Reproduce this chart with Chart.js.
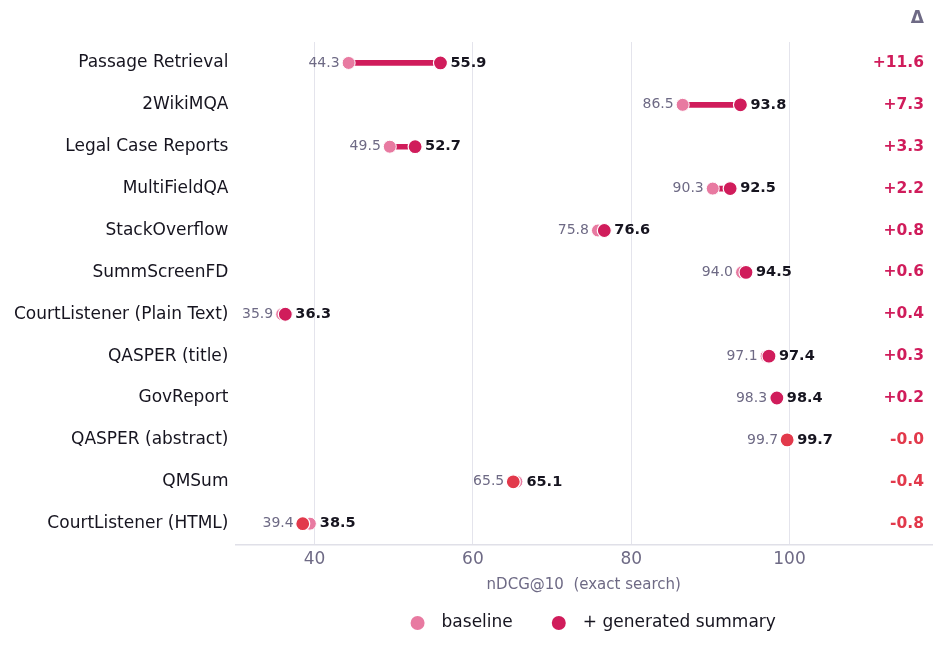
<!DOCTYPE html>
<html>
<head>
<meta charset="utf-8">
<script src="https://cdn.jsdelivr.net/npm/chart.js@4"></script>
<style>
  html, body { margin: 0; padding: 0; background: #fff; }
  #wrap { width: 945px; height: 652px; }
</style>
</head>
<body>
<div id="wrap"><canvas id="dumbbell"></canvas></div>
<script>
// datasets, top to bottom
const tasks = ['Passage Retrieval', '2WikiMQA', 'Legal Case Reports', 'MultiFieldQA', 'StackOverflow',
  'SummScreenFD', 'CourtListener (Plain Text)', 'QASPER (title)', 'GovReport', 'QASPER (abstract)',
  'QMSum', 'CourtListener (HTML)'];
const baseline = [44.3, 86.5, 49.5, 90.3, 75.8, 94.0, 35.9, 97.1, 98.3, 99.7, 65.5, 39.4];
const withSummary = [55.9, 93.8, 52.7, 92.5, 76.6, 94.5, 36.3, 97.4, 98.4, 99.7, 65.1, 38.5];
const deltaLabels = ['+11.6', '+7.3', '+3.3', '+2.2', '+0.8', '+0.6', '+0.4', '+0.3', '+0.2', '-0.0', '-0.4', '-0.8'];
const xTicks = [40, 60, 80, 100];

const FONT = '"DejaVu Sans", sans-serif';
const PINK = '#e87aa1';
const UP = '#d01c5b';
const DOWN = '#e2394b';
const isDown = deltaLabels.map(d => d.startsWith('-'));
const sumColors = isDown.map(d => d ? DOWN : UP);

// value labels, delta column, header and the legend under the plot
const annotate = {
  id: 'annotate',
  afterDatasetsDraw(chart) {
    const { ctx, chartArea, scales: { x, y } } = chart;
    ctx.save();
    ctx.textBaseline = 'middle';
    tasks.forEach((t, i) => {
      const py = y.getPixelForValue(i);
      const lo = x.getPixelForValue(Math.min(baseline[i], withSummary[i]));
      const hi = x.getPixelForValue(Math.max(baseline[i], withSummary[i]));
      ctx.font = '14px ' + FONT;
      ctx.fillStyle = '#6e6a85';
      ctx.textAlign = 'right';
      ctx.fillText(baseline[i].toFixed(1), lo - 9, py);
      ctx.font = 'bold 14.5px ' + FONT;
      ctx.fillStyle = '#16141f';
      ctx.textAlign = 'left';
      ctx.fillText(withSummary[i].toFixed(1), hi + 10, py);
      ctx.font = 'bold 15.5px ' + FONT;
      ctx.fillStyle = sumColors[i];
      ctx.textAlign = 'right';
      ctx.fillText(deltaLabels[i], chartArea.right - 8, py);
    });
    ctx.font = 'bold 17px ' + FONT;
    ctx.fillStyle = '#6e6a85';
    ctx.textAlign = 'right';
    ctx.fillText('Δ', chartArea.right - 8, 19);

    // legend
    const items = [['baseline', PINK], ['+ generated summary', UP]];
    ctx.font = '17px ' + FONT;
    const widths = items.map(([txt]) => 24 + ctx.measureText(txt).width);
    const gap = 46;
    const total = widths[0] + widths[1] + gap;
    let lx = (chartArea.left + chartArea.right) / 2 + 13 - total / 2;
    const ly = 623;
    ctx.textAlign = 'left';
    items.forEach(([txt, col], k) => {
      ctx.beginPath();
      ctx.arc(lx, ly, 7, 0, Math.PI * 2);
      ctx.fillStyle = col;
      ctx.fill();
      ctx.fillStyle = '#16141f';
      ctx.fillText(txt, lx + 24, ly);
      lx += widths[k] + gap;
    });
    ctx.restore();
  }
};

const ctx = document.getElementById('dumbbell').getContext('2d');
const chart = new Chart(ctx, {
  data: {
    labels: tasks,
    datasets: [
      {
        type: 'bar',
        label: 'gap',
        data: baseline.map((b, i) => [b, withSummary[i]]),
        backgroundColor: UP,
        barThickness: 5,
        borderSkipped: false,
        order: 3
      },
      {
        type: 'line',
        label: 'baseline',
        data: baseline,
        showLine: false,
        pointRadius: 6.5,
        pointBackgroundColor: PINK,
        pointBorderColor: '#ffffff',
        pointBorderWidth: 1,
        backgroundColor: PINK,
        borderColor: PINK,
        order: 2
      },
      {
        type: 'line',
        label: '+ generated summary',
        data: withSummary,
        showLine: false,
        pointRadius: 7,
        pointBackgroundColor: sumColors,
        pointBorderColor: '#ffffff',
        pointBorderWidth: 1.2,
        backgroundColor: UP,
        borderColor: UP,
        order: 1
      }
    ]
  },
  options: {
    indexAxis: 'y',
    responsive: true,
    maintainAspectRatio: false,
    animation: false,
    layout: { padding: { top: 42, right: 13, left: 7, bottom: 58 } },
    scales: {
      x: {
        type: 'linear',
        min: 30,
        max: 118,
        afterBuildTicks(axis) { axis.ticks = xTicks.map(v => ({ value: v })); },
        grid: { color: '#e4e4ec', lineWidth: 1, drawTicks: false },
        border: { color: '#e0e0e8', width: 1.5 },
        ticks: { color: '#6e6a85', font: { family: FONT, size: 17 }, padding: 5 },
        title: {
          display: true,
          text: 'nDCG@10  (exact search)',
          color: '#6e6a85',
          font: { family: FONT, size: 15 },
          padding: { top: 1, bottom: 0 }
        }
      },
      y: {
        type: 'category',
        offset: true,
        grid: { display: false, drawTicks: false },
        border: { display: false },
        ticks: { color: '#16141f', font: { family: FONT, size: 17 }, padding: 7 }
      }
    },
    plugins: {
      legend: { display: false },
      tooltip: { enabled: false }
    }
  },
  plugins: [annotate]
});
</script>
</body>
</html>
